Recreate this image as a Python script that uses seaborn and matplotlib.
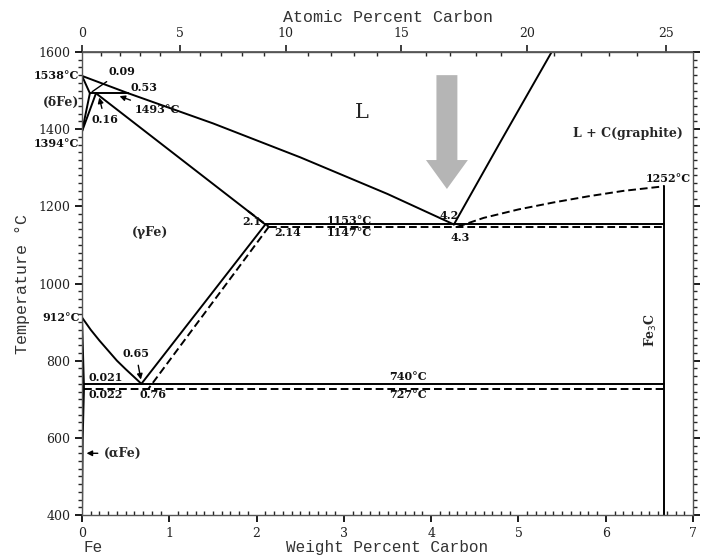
import numpy as np
import pandas as pd
import matplotlib
matplotlib.use("Agg")
import matplotlib.pyplot as plt
import seaborn as sns
from matplotlib.ticker import MultipleLocator
from matplotlib.patches import FancyArrow

# --- datos del diagrama Fe-C (wt% C, °C) ---
liq_delta_w = [0.0, 0.53]
liq_delta_t = [1538, 1493]
liq_gamma_w = [0.53, 1.5, 2.5, 3.5, 4.26]
liq_gamma_t = [1493, 1415, 1327, 1232, 1153]
perit_w = [0.09, 0.53]
perit_t = [1493, 1493]
sol_delta_w = [0.0, 0.09]
sol_delta_t = [1538, 1493]
delta_solvus_w = [0.09, 0.0]
delta_solvus_t = [1493, 1394]
gamma_delta_w = [0.0, 0.16]
gamma_delta_t = [1394, 1493]
sol_gamma_w = [0.16, 2.1]
sol_gamma_t = [1493, 1153]
sol_gamma_d_w = [1.9, 2.14]
sol_gamma_d_t = [1188, 1147]
eut_w = [2.1, 6.67]
eut_t = [1153, 1153]
eut_d_w = [2.14, 6.67]
eut_d_t = [1147, 1147]
liq_graph_w = [4.26, 4.8, 5.38]
liq_graph_t = [1153, 1370, 1600]
liq_cem_w = [4.3, 4.6, 5.0, 5.4, 5.8, 6.2, 6.67]
liq_cem_t = [1147, 1170, 1192, 1210, 1226, 1240, 1252]
fe3c_w = [6.67, 6.67]
fe3c_t = [1252, 400]
acm_w = [2.1, 0.68]
acm_t = [1153, 740]
acm_d_w = [2.14, 0.76]
acm_d_t = [1147, 727]
a3_w = [0.0, 0.1, 0.2, 0.3, 0.4, 0.5, 0.6, 0.68]
a3_t = [912, 880, 852, 826, 800, 778, 757, 740]
alpha_w = [0.0, 0.021, 0.022, 0.008, 0.0]
alpha_t = [912, 740, 727, 600, 400]
eutd_w = [0.021, 6.67]
eutd_t = [740, 740]
eutd_d_w = [0.022, 6.67]
eutd_d_t = [727, 727]

solid_lines = [
    (liq_delta_w, liq_delta_t), (liq_gamma_w, liq_gamma_t), (perit_w, perit_t),
    (sol_delta_w, sol_delta_t), (delta_solvus_w, delta_solvus_t),
    (gamma_delta_w, gamma_delta_t), (sol_gamma_w, sol_gamma_t), (eut_w, eut_t),
    (liq_graph_w, liq_graph_t), (fe3c_w, fe3c_t), (acm_w, acm_t),
    (a3_w, a3_t), (alpha_w, alpha_t), (eutd_w, eutd_t),
]
dashed_lines = [
    (sol_gamma_d_w, sol_gamma_d_t), (eut_d_w, eut_d_t), (liq_cem_w, liq_cem_t),
    (acm_d_w, acm_d_t), (eutd_d_w, eutd_d_t),
]

xticks = [0, 1, 2, 3, 4, 5, 6, 7]
yticks = [400, 600, 800, 1000, 1200, 1400, 1600]
at_ticks = [0, 5, 10, 15, 20, 25]

sns.set_theme(style="ticks")
plt.rcParams['font.family'] = ['DejaVu Serif']

fig = plt.figure(figsize=(7.04, 5.56), dpi=100)
ax = fig.add_axes([0.1165, 0.0737, 0.868, 0.8328])

for w, t in solid_lines:
    sns.lineplot(x=w, y=t, ax=ax, color="black", lw=1.4, sort=False, estimator=None)
for w, t in dashed_lines:
    sns.lineplot(x=w, y=t, ax=ax, color="black", lw=1.4, sort=False, estimator=None,
                 linestyle=(0, (4, 2)))

ax.set_xlim(0, 7)
ax.set_ylim(400, 1600)
ax.set_xticks(xticks)
ax.set_yticks(yticks)
ax.xaxis.set_minor_locator(MultipleLocator(0.1))
ax.yaxis.set_minor_locator(MultipleLocator(20))
ax.tick_params(axis="both", which="major", labelsize=9, length=5, direction="out",
               color="black", labelcolor="#222222")
ax.tick_params(axis="x", which="minor", length=3, direction="in")
ax.tick_params(axis="y", which="minor", length=3, direction="out", right=True)
ax.tick_params(axis="y", which="major", right=True)
for s in ax.spines.values():
    s.set_color("#555555")
    s.set_linewidth(1.0)

def wt_to_at(w):
    w = np.asarray(w, dtype=float)
    c = w / 12.011
    f = (100 - w) / 55.845
    return 100 * c / (c + f)

def at_to_wt(a):
    a = np.asarray(a, dtype=float)
    c = a * 12.011
    f = (100 - a) * 55.845
    return 100 * c / (c + f)

top = ax.secondary_xaxis("top", functions=(wt_to_at, at_to_wt))
top.set_xticks(at_ticks)
top.xaxis.set_minor_locator(MultipleLocator(1))
top.tick_params(which="major", labelsize=9, length=5, direction="out", labelcolor="#222222")
top.tick_params(which="minor", length=3, direction="in")
top.spines["top"].set_color("#555555")

mono = "Liberation Mono"
top.set_xlabel("Atomic Percent Carbon", family=mono, fontsize=12, color="#333333", labelpad=4)
ax.set_xlabel("Weight Percent Carbon", family=mono, fontsize=11.5, color="#333333", labelpad=0)
ax.set_ylabel("Temperature \u00b0C", family=mono, fontsize=12, color="#333333", labelpad=6)
fig.text(0.118, 0.008, "Fe", family=mono, fontsize=11.5, color="#333333")

# --- anotaciones ---
kw = dict(fontsize=8, fontweight="bold", color="#111111")
ax.text(-0.03, 1538, "1538\u00b0C", ha="right", va="center", **kw)
ax.text(-0.03, 1470, "(\u03b4Fe)", ha="right", va="center", fontsize=9, fontweight="bold")
ax.text(-0.03, 1364, "1394\u00b0C", ha="right", va="center", **kw)
ax.text(-0.03, 912, "912\u00b0C", ha="right", va="center", **kw)
ax.annotate("0.09", xy=(0.09, 1493), xytext=(0.3, 1550), ha="left", va="center",
            arrowprops=dict(arrowstyle="-", color="black", lw=1), **kw)
ax.text(0.55, 1508, "0.53", ha="left", va="center", **kw)
ax.annotate("1493\u00b0C", xy=(0.4, 1488), xytext=(0.6, 1450), ha="left", va="center",
            arrowprops=dict(arrowstyle="-|>", color="black", lw=1, mutation_scale=8), **kw)
ax.annotate("0.16", xy=(0.19, 1489), xytext=(0.26, 1424), ha="center", va="center",
            arrowprops=dict(arrowstyle="-|>", color="black", lw=1, mutation_scale=8), **kw)
ax.text(2.05, 1160, "2.1", ha="right", va="center", **kw)
ax.text(2.2, 1133, "2.14", ha="left", va="center", **kw)
ax.text(2.8, 1163, "1153\u00b0C", ha="left", va="center", **kw)
ax.text(2.8, 1133, "1147\u00b0C", ha="left", va="center", **kw)
ax.text(4.2, 1175, "4.2", ha="center", va="center", **kw)
ax.text(4.33, 1120, "4.3", ha="center", va="center", **kw)
ax.text(6.72, 1272, "1252\u00b0C", ha="center", va="center", **kw)
ax.annotate("0.65", xy=(0.68, 744), xytext=(0.62, 818), ha="center", va="center",
            arrowprops=dict(arrowstyle="-|>", color="black", lw=1, mutation_scale=8), **kw)
ax.text(0.07, 757, "0.021", ha="left", va="center", **kw)
ax.text(0.07, 712, "0.022", ha="left", va="center", **kw)
ax.text(0.66, 712, "0.76", ha="left", va="center", **kw)
ax.text(3.52, 758, "740\u00b0C", ha="left", va="center", **kw)
ax.text(3.52, 712, "727\u00b0C", ha="left", va="center", **kw)
ax.annotate("(\u03b1Fe)", xy=(0.02, 560), xytext=(0.25, 560), ha="left", va="center",
            arrowprops=dict(arrowstyle="-|>", color="black", lw=1, mutation_scale=8),
            fontsize=9, fontweight="bold")
ax.text(0.78, 1131, "(\u03b3Fe)", ha="center", va="center", fontsize=9, fontweight="bold")
ax.text(3.2, 1444, "L", ha="center", va="center", fontsize=15)
ax.text(6.25, 1390, "L + C(graphite)", ha="center", va="center", fontsize=9, fontweight="bold")
ax.text(6.52, 880, "Fe$_3$C", ha="center", va="center", rotation=90, fontsize=9, fontweight="bold")

big = FancyArrow(4.18, 1540, 0, -295, width=0.24, head_width=0.48, head_length=75,
                 length_includes_head=True, color="#b5b5b5", lw=0, zorder=3)
ax.add_patch(big)

fig.savefig("out.png", dpi=100)
